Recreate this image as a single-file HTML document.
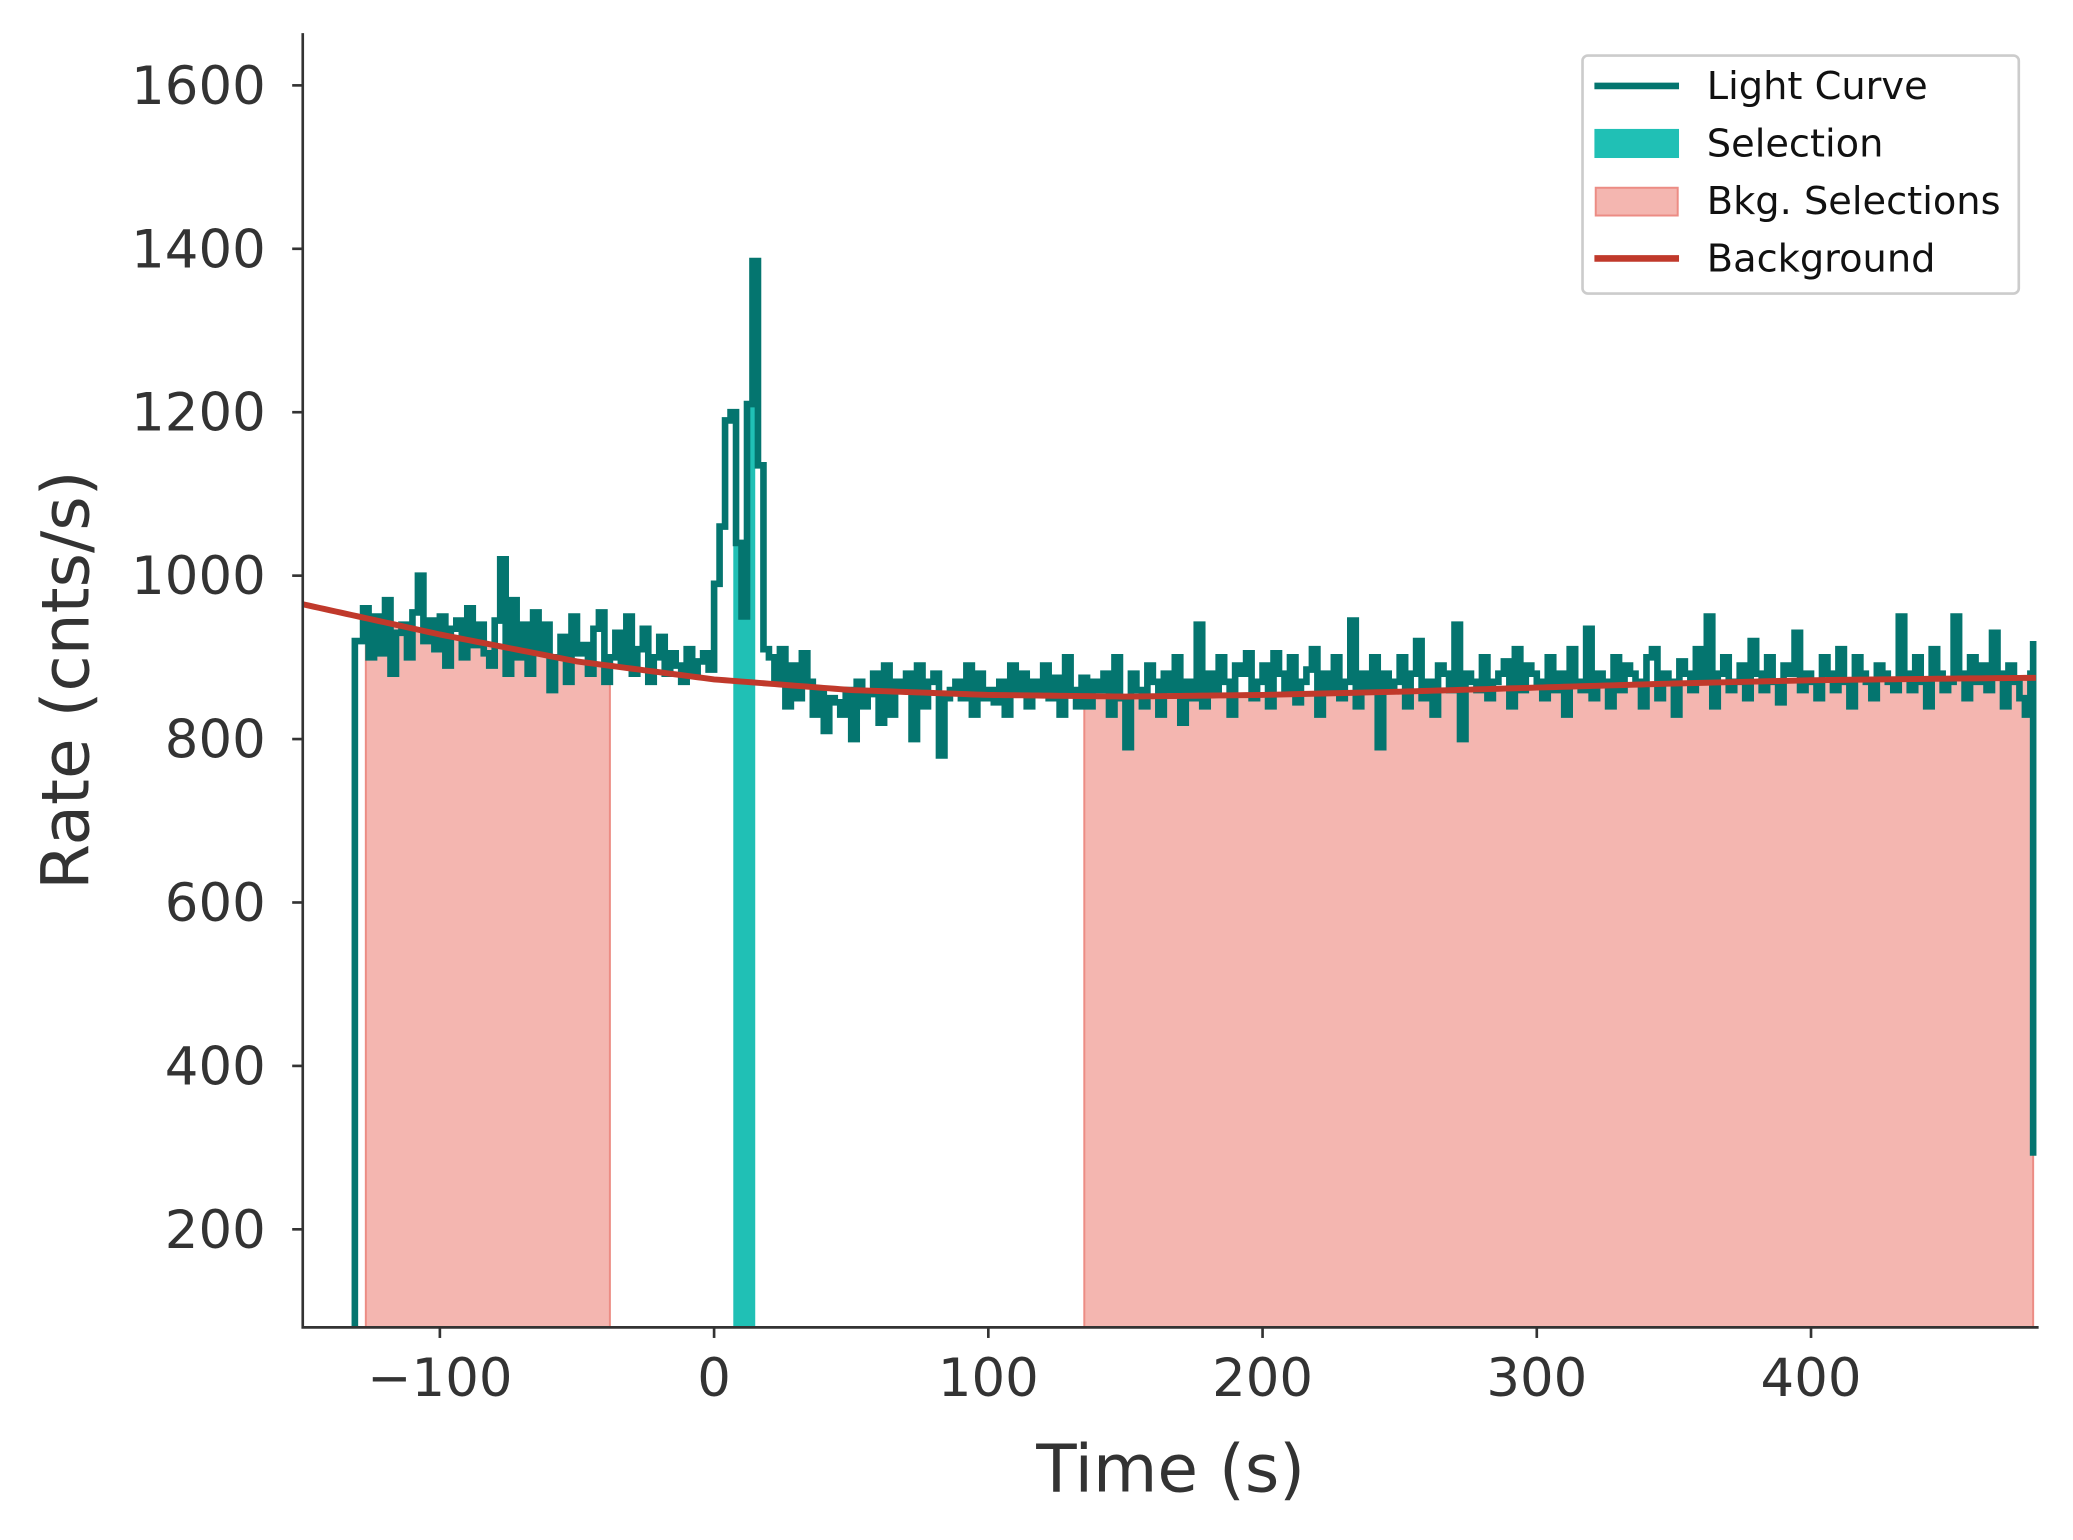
<!DOCTYPE html>
<html><head><meta charset="utf-8"><style>
html,body{margin:0;padding:0;background:#fff}
svg{display:block;font-family:"DejaVu Sans","Liberation Sans",sans-serif}
</style></head><body>
<svg id="chart" width="2073" height="1540" viewBox="0 0 1568 1164.8" xmlns="http://www.w3.org/2000/svg">
<g id="plot"></g>
</svg>
<script>
const binStart = -130;
const binWidth = 2;
const endTime = 481;
const endRate = 290;
const rates = [920,960,900,950,905,970,880,930,940,900,955,1000,920,945,910,950,890,935,945,900,960,915,940,905,890,945,1020,880,970,900,940,880,955,910,940,860,900,925,870,950,905,915,880,935,955,870,900,930,890,950,880,910,935,870,900,925,880,905,890,870,910,880,895,905,885,
990,1060,1190,1200,1040,950,1210,1385,1135,910,
900,870,910,840,890,850,905,870,830,860,810,850,845,830,860,800,870,840,855,880,820,890,830,870,860,880,800,890,840,870,880,780,850,860,870,850,890,830,880,850,860,845,870,830,890,860,880,840,870,860,890,850,875,830,900,860,840,875,
840,870,860,880,830,900,850,790,880,860,840,890,870,830,880,860,900,820,870,850,940,840,880,860,900,870,830,890,880,905,850,870,890,840,905,880,860,900,845,870,885,910,830,880,860,900,850,870,945,840,880,860,900,790,880,860,870,900,840,880,920,850,870,830,890,880,860,940,800,880,870,860,900,850,870,880,895,840,910,860,890,880,870,850,900,860,880,830,910,870,860,935,850,880,870,840,900,860,890,880,870,840,900,910,850,880,870,830,895,880,860,910,870,950,840,880,900,860,870,890,850,920,880,860,900,870,845,890,880,930,860,880,870,850,900,880,860,910,870,840,900,880,870,850,890,880,870,860,950,880,860,900,870,840,910,880,860,870,950,880,850,900,870,890,860,930,880,840,890,870,850,830,880,920];
const bkgTimes = [-150,-100,-50,0,50,100,150,200,250,300,350,400,450,483];
const bkgRates = [965,928,895,873,860,854,852,854,858,863,868,872,874,875];
const bkgSelections = [[-127,-38],[135,481]];
const sourceSelection = [7,15];
const xTicks = [-100,0,100,200,300,400];
const yTicks = [200,400,600,800,1000,1200,1400,1600];

const L=229,R=1542,T=25,B=1004, XMIN=-150,XMAX=483, YMIN=80,YMAX=1664;
const x=v=>L+(v-XMIN)/(XMAX-XMIN)*(R-L);
const y=v=>B-(v-YMIN)/(YMAX-YMIN)*(B-T);
const NS="http://www.w3.org/2000/svg";
const g=document.getElementById('plot');
function mk(tag,attrs,parent){const e=document.createElementNS(NS,tag);for(const k in attrs)e.setAttribute(k,attrs[k]);(parent||g).appendChild(e);return e;}
function bkg(t){for(let i=0;i<bkgTimes.length-1;i++){if(t<=bkgTimes[i+1]){const f=(t-bkgTimes[i])/(bkgTimes[i+1]-bkgTimes[i]);return bkgRates[i]+f*(bkgRates[i+1]-bkgRates[i]);}}return bkgRates[bkgRates.length-1];}
function rateAt(t){let i=Math.floor((t-binStart)/binWidth);i=Math.max(0,Math.min(rates.length-1,i));return rates[i];}

bkgSelections.forEach(s=>{
  let d=`M${x(s[0])},${y(YMIN)}`;
  for(let t=s[0];t<=s[1];t+=1)d+=` L${x(t)},${y(bkg(t))}`;
  d+=` L${x(s[1])},${y(bkg(s[1]))} L${x(s[1])},${y(YMIN)} Z`;
  const p=mk('path',{d:d,fill:'#f4b6b0',stroke:'#ec8c84','stroke-width':1.5});
  
  
});
{
  let d=`M${x(sourceSelection[0])},${y(YMIN)}`;
  for(let t=sourceSelection[0];t<sourceSelection[1];t+=binWidth/2){d+=` L${x(t)},${y(rateAt(t))}`;}
  d+=` L${x(sourceSelection[1])},${y(rateAt(sourceSelection[1]-0.01))} L${x(sourceSelection[1])},${y(YMIN)} Z`;
  const p=mk('path',{d:d,fill:'#20c0b5'});
  
  
}
{
  let d=`M${x(binStart-1)},${y(YMIN)} V${y(rates[0])}`;
  rates.forEach((v,i)=>{const te=Math.min(endTime,binStart+(i+1)*binWidth);d+=` V${y(v)} H${x(te)}`;});
  d+=` H${x(endTime)} V${y(endRate)}`;
  const p=mk('path',{d:d,fill:'none',stroke:'#04756f','stroke-width':5,'stroke-linejoin':'miter'});
  
  
}
{
  let d='';
  for(let t=XMIN;t<=XMAX;t+=2)d+=(d?' L':'M')+x(t)+','+y(bkg(t));
  const p=mk('path',{d:d,fill:'none',stroke:'#c0392b','stroke-width':4.5});
  
  
}
const ax=mk('path',{d:`M${L},${T} V${B} H${R}`,fill:'none',stroke:'#333','stroke-width':2});


xTicks.forEach(v=>{
  mk('line',{x1:x(v),x2:x(v),y1:B,y2:B+8,stroke:'#333','stroke-width':2});
  const t=mk('text',{x:x(v),y:B+52,'text-anchor':'middle','font-size':40,fill:'#333'});
  t.textContent=v<0?'\u2212'+Math.abs(v):String(v);
  
  
});
yTicks.forEach(v=>{
  mk('line',{x1:L-8,x2:L,y1:y(v),y2:y(v),stroke:'#333','stroke-width':2});
  const t=mk('text',{x:L-28,y:y(v)+14,'text-anchor':'end','font-size':40,fill:'#333'});
  t.textContent=String(v);
  
  
});
const xl=mk('text',{x:(L+R)/2,y:1128,'text-anchor':'middle','font-size':50,fill:'#333'});
xl.textContent='Time (s)';


const yl=mk('text',{x:0,y:0,transform:`translate(67,${(T+B)/2}) rotate(-90)`,'text-anchor':'middle','font-size':50,fill:'#333'});
yl.textContent='Rate (cnts/s)';


const lg=mk('g',{});


mk('rect',{x:1197,y:42,width:330,height:180,rx:4,fill:'#fff',stroke:'#ccc','stroke-width':2},lg);
const items=[['Light Curve','line','#04756f'],['Selection','patch','#20c0b5'],['Bkg. Selections','bpatch','#f4b6b0'],['Background','line','#c0392b']];
items.forEach((it,i)=>{
  const cy=65+i*43.5;
  const e=mk('g',{},lg);
  
  
  if(it[1]==='line')mk('line',{x1:1206,x2:1270,y1:cy,y2:cy,stroke:it[2],'stroke-width':5},e);
  else if(it[1]==='patch')mk('rect',{x:1206,y:cy-11,width:64,height:22,fill:it[2]},e);
  else mk('rect',{x:1207,y:cy-10,width:62,height:21,fill:it[2],stroke:'#ec8c84','stroke-width':1.5},e);
  const t=mk('text',{x:1291,y:cy+10,'font-size':29,fill:'#111'},e);
  t.textContent=it[0];
});
</script>
</body></html>
